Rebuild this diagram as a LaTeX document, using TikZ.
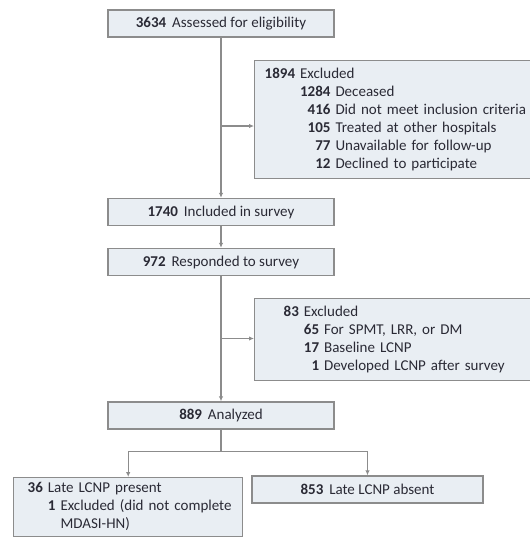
\documentclass[tikz,border=0pt]{standalone}
\usepackage{fontspec}
\setmainfont{Carlito}
\usetikzlibrary{arrows.meta}
\definecolor{boxgray}{HTML}{8C8C8C}
\definecolor{boxfill}{HTML}{E9EEF3}
\definecolor{txt}{HTML}{2A2A35}

\tikzset{
  stagebox/.style={draw=boxgray, fill=boxfill, line width=1.4pt, text=txt,
    minimum width=226pt, minimum height=27pt, inner sep=0pt},
  exclbox/.style={draw=boxgray, fill=boxfill, line width=1.4pt, text=txt,
    anchor=north west, inner xsep=10pt, inner ysep=0pt, align=left},
  flow/.style={draw=boxgray, line width=1.4pt}
}
\newcommand{\cnt}[1]{\textbf{#1}}

\begin{document}
\begin{tikzpicture}[x=1pt, y=-1pt, >={Latex[length=5pt,width=4.5pt]}]
\fontsize{15}{18}\selectfont
\useasboundingbox (0,0) rectangle (530,552);
\clip (0,0) rectangle (530,552);
% main stages
\node[stagebox] at (221, 23.5) (assessed) {\cnt{3634}\, Assessed for eligibility};
\node[stagebox] at (221, 212) (included) {\cnt{1740}\, Included in survey};
\node[stagebox] at (221, 262) (responded) {\cnt{972}\, Responded to survey};
\node[stagebox] at (221, 415.5) (analyzed) {\cnt{889}\, Analyzed};
% exclusions
\node[exclbox, minimum width=285pt, minimum height=118pt, text width=265pt] at (254, 60) (excl1) {%
  \begin{tabular}{@{}r@{\hspace{5pt}}r@{\hspace{5pt}}l@{}}
  \cnt{1894} & \multicolumn{2}{@{}l@{}}{Excluded}\\
   & \cnt{1284} & Deceased\\
   & \cnt{416} & Did not meet inclusion criteria\\
   & \cnt{105} & Treated at other hospitals\\
   & \cnt{77} & Unavailable for follow-up\\
   & \cnt{12} & Declined to participate
  \end{tabular}};
\node[exclbox, minimum width=285pt, minimum height=82pt, inner xsep=29pt, text width=227pt] at (254, 298) (excl2) {%
  \begin{tabular}{@{}r@{\hspace{5pt}}r@{\hspace{5pt}}l@{}}
  \cnt{83} & \multicolumn{2}{@{}l@{}}{Excluded}\\
   & \cnt{65} & For SPMT, LRR, or DM\\
   & \cnt{17} & Baseline LCNP\\
   & \cnt{1} & Developed LCNP after survey
  \end{tabular}};
% outcome groups
\node[exclbox, minimum width=229pt, minimum height=59pt, inner xsep=14pt, text width=201pt] at (13, 477) (present) {%
  \begin{tabular}{@{}r@{\hspace{5pt}}r@{\hspace{5pt}}l@{}}
  \cnt{36} & \multicolumn{2}{@{}l@{}}{Late LCNP present}\\
   & \cnt{1} & Excluded (did not complete\\
   & & MDASI-HN)
  \end{tabular}};
\node[stagebox, minimum width=231pt] at (367.5, 489.5) (absent) {\cnt{853}\, Late LCNP absent};
% connectors
\coordinate (split1) at (221, 126);
\coordinate (split2) at (221, 338.5);
\draw[flow, ->] (assessed) -- (included);
\draw[flow, ->] (split1) -- (split1 -| excl1.west);
\draw[flow, ->] (included) -- (responded);
\draw[flow, ->] (responded) -- (analyzed);
\draw[flow, ->] (split2) -- (split2 -| excl2.west);
\draw[flow, ->] (analyzed.south) -- ++(0, 22) -| (present.north);
\draw[flow, ->] (analyzed.south) -- ++(0, 22) -| (absent.north);
\end{tikzpicture}
\end{document}
